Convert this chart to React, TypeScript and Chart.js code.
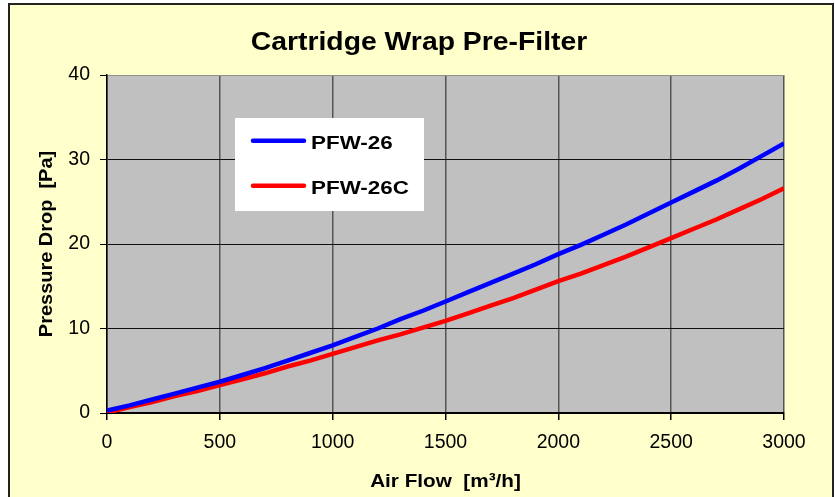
import React, { useEffect, useRef } from "react";
import { Chart, registerables } from "chart.js";

Chart.register(...registerables);

const chartTitle = "Cartridge Wrap Pre-Filter";
const xAxisTitle = "Air Flow  [m³/h]";
const yAxisTitle = "Pressure Drop  [Pa]";

const airFlow = [0, 100, 200, 300, 400, 500, 600, 700, 800, 900, 1000, 1100, 1200, 1300, 1400, 1500, 1600, 1700, 1800, 1900, 2000, 2100, 2200, 2300, 2400, 2500, 2600, 2700, 2800, 2900, 3000];
const pfw26 = [0.3, 0.9, 1.6, 2.3, 3.0, 3.7, 4.5, 5.3, 6.2, 7.1, 8.0, 9.0, 10.0, 11.1, 12.1, 13.2, 14.3, 15.4, 16.5, 17.6, 18.8, 19.9, 21.1, 22.3, 23.6, 24.9, 26.2, 27.5, 28.9, 30.4, 31.9];
const pfw26c = [0.05, 0.7, 1.3, 2.0, 2.6, 3.3, 4.0, 4.7, 5.5, 6.2, 7.0, 7.8, 8.6, 9.3, 10.1, 10.9, 11.8, 12.7, 13.6, 14.6, 15.6, 16.5, 17.5, 18.5, 19.6, 20.7, 21.8, 22.9, 24.1, 25.3, 26.6];

const seriesNames = ["PFW-26", "PFW-26C"];
const seriesColors = ["#0000FF", "#FF0000"];

const FONT = '"Liberation Sans", Arial, sans-serif';

function drawText(ctx: CanvasRenderingContext2D, text: string, x: number, y: number, font: string, sx: number, align: CanvasTextAlign, rotate = 0) {
  ctx.save();
  ctx.translate(x, y);
  if (rotate) ctx.rotate(rotate);
  ctx.scale(sx, 1);
  ctx.font = font;
  ctx.fillStyle = "#000";
  ctx.textAlign = align;
  ctx.textBaseline = "alphabetic";
  ctx.fillText(text, 0, 0);
  ctx.restore();
}

const decorPlugin = {
  id: "decor",
  beforeDraw(chart: any) {
    const { ctx, chartArea: ca } = chart;
    ctx.save();
    ctx.fillStyle = "#C0C0C0";
    ctx.fillRect(ca.left, ca.top, ca.right - ca.left, ca.bottom - ca.top);
    ctx.restore();
  },
  afterDraw(chart: any) {
    const { ctx, chartArea: ca } = chart;
    drawText(ctx, chartTitle, 419, 50, `bold 26px ${FONT}`, 1.09, "center");
    drawText(ctx, xAxisTitle, (ca.left + ca.right) / 2, 487, `bold 19px ${FONT}`, 1.09, "center");
    drawText(ctx, yAxisTitle, 51.5, (ca.top + ca.bottom) / 2, `bold 19px ${FONT}`, 1.05, "center", -Math.PI / 2);
    const bx = ca.left + 128;
    const by = ca.top + 43;
    ctx.save();
    ctx.fillStyle = "#FFFFFF";
    ctx.fillRect(bx, by, 189, 93);
    seriesNames.forEach((name, i) => {
      const ly = by + 22.7 + i * 45;
      ctx.strokeStyle = seriesColors[i];
      ctx.lineWidth = 4.5;
      ctx.lineCap = "round";
      ctx.beginPath();
      ctx.moveTo(bx + 18, ly);
      ctx.lineTo(bx + 69, ly);
      ctx.stroke();
      drawText(ctx, name, bx + 76, ly + 8.5, `bold 19px ${FONT}`, 1.18, "left");
    });
    ctx.restore();
  },
};

export default function App() {
  const ref = useRef<HTMLCanvasElement | null>(null);
  useEffect(() => {
    if (!ref.current) return;
    const chart = new Chart(ref.current, {
      type: "line",
      data: {
        datasets: [
          {
            label: seriesNames[0],
            data: airFlow.map((x, i) => ({ x, y: pfw26[i] })),
            borderColor: seriesColors[0],
            borderWidth: 4.5,
            pointRadius: 0,
            tension: 0,
          },
          {
            label: seriesNames[1],
            data: airFlow.map((x, i) => ({ x, y: pfw26c[i] })),
            borderColor: seriesColors[1],
            borderWidth: 4.5,
            pointRadius: 0,
            tension: 0,
          },
        ],
      },
      options: {
        animation: false,
        responsive: false,
        devicePixelRatio: 1,
        layout: { padding: { left: 0, top: 75, right: 51, bottom: 0 } },
        plugins: { legend: { display: false }, title: { display: false }, tooltip: { enabled: false } },
        scales: {
          x: {
            type: "linear",
            min: 0,
            max: 3000,
            afterFit: (s: any) => { s.height = 84; },
            ticks: { stepSize: 500, color: "#000", font: { family: FONT, size: 19.5 }, padding: 11, maxRotation: 0, callback: (v: any) => String(v) },
            grid: { color: "#555555", lineWidth: 1.5, tickLength: 7, tickColor: "#000", tickWidth: 1.5 },
            border: { color: "#000", width: 2 },
          },
          y: {
            min: 0,
            max: 40,
            afterFit: (s: any) => { s.width = 107; },
            ticks: { stepSize: 10, color: "#000", font: { family: FONT, size: 19.5 }, padding: 10, callback: (v: any) => String(v) },
            grid: { color: (c: any) => (c.tick && c.tick.value === 40 ? "#909090" : "#111111"), lineWidth: 1, tickLength: 7, tickColor: "#000" },
            border: { color: "#000", width: 1.5 },
          },
        },
      },
      plugins: [decorPlugin],
    });
    return () => chart.destroy();
  }, []);
  return (
    <div style={{ position: "fixed", left: 0, top: 0, width: 835, height: 497, background: "#FFFFFF", overflow: "hidden" }}>
      <div style={{ position: "absolute", left: 8, top: 3, width: 826, height: 540, boxSizing: "border-box", border: "2px solid #222", background: "#FFFFCC" }} />
      <canvas ref={ref} width={835} height={497} style={{ position: "absolute", left: 0, top: 0, width: 835, height: 497 }} />
    </div>
  );
}
